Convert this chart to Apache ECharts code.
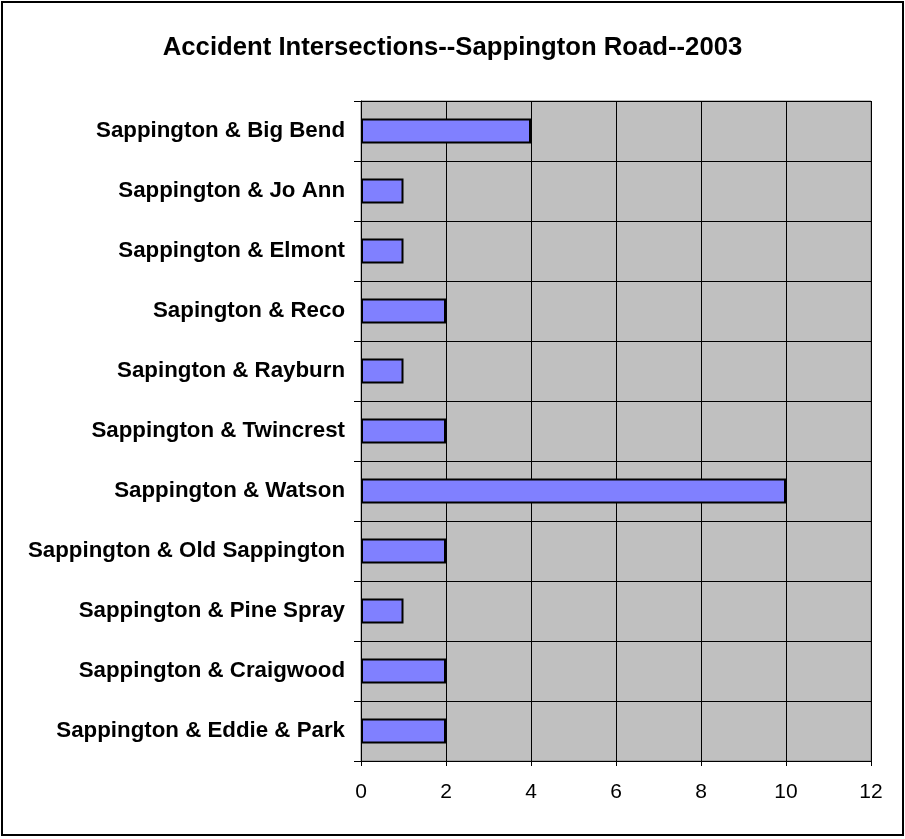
<!DOCTYPE html>
<html>
<head>
<meta charset="utf-8">
<script src="https://cdn.jsdelivr.net/npm/echarts@6/dist/echarts.min.js"></script>
<style>
  html, body { margin: 0; padding: 0; background: #fff; }
  #chart { width: 905px; height: 839px; }
  #frame { position: absolute; left: 1px; top: 1px; width: 899px; height: 831px; border: 2px solid #000; pointer-events: none; }
</style>
</head>
<body>
<div id="chart"></div>
<div id="frame"></div>
<script>
// intersections, top to bottom
const categories = [
  'Sappington & Big Bend',
  'Sappington & Jo Ann',
  'Sappington & Elmont',
  'Sapington & Reco',
  'Sapington & Rayburn',
  'Sappington & Twincrest',
  'Sappington & Watson',
  'Sappington & Old Sappington',
  'Sappington & Pine Spray',
  'Sappington & Craigwood',
  'Sappington & Eddie & Park'
]
const accidents = [4, 1, 1, 2, 1, 2, 10, 2, 1, 2, 2]
const xTicks = [0, 2, 4, 6, 8, 10, 12]

const chart = echarts.init(document.getElementById('chart'))
chart.setOption({
  animation: false,
  title: {
    text: 'Accident Intersections--Sappington Road--2003',
    left: 'center',
    top: 30,
    textStyle: {
      fontFamily: 'Liberation Sans',
      fontWeight: 'bold',
      fontSize: 25.7,
      color: '#000'
    }
  },
  grid: {
    left: 361,
    top: 101,
    right: 34,
    bottom: 78,
    show: true,
    backgroundColor: '#c0c0c0',
    borderColor: '#808080',
    borderWidth: 1
  },
  xAxis: {
    type: 'value',
    min: xTicks[0],
    max: xTicks[xTicks.length - 1],
    interval: 2,
    axisLine: { show: true, lineStyle: { color: '#000', width: 1 } },
    axisTick: { show: true, length: 5, lineStyle: { color: '#000' } },
    axisLabel: {
      margin: 21,
      fontFamily: 'Liberation Sans',
      fontSize: 21,
      color: '#000'
    },
    splitLine: { show: true, lineStyle: { color: '#000', width: 1 } }
  },
  yAxis: {
    type: 'category',
    data: categories,
    inverse: true,
    axisLine: { show: true, lineStyle: { color: '#000', width: 1 } },
    axisTick: { show: true, length: 7, lineStyle: { color: '#000' } },
    axisLabel: {
      margin: 16,
      padding: [3, 0, 0, 0],
      fontFamily: 'Liberation Sans',
      fontWeight: 'bold',
      fontSize: 22.3,
      color: '#000'
    },
    splitLine: { show: true, lineStyle: { color: '#000', width: 1 } }
  },
  series: [
    {
      type: 'bar',
      data: accidents,
      barWidth: '42%',
      itemStyle: {
        color: '#8080ff',
        borderColor: '#000',
        borderWidth: 2
      }
    }
  ]
})
</script>
</body>
</html>
